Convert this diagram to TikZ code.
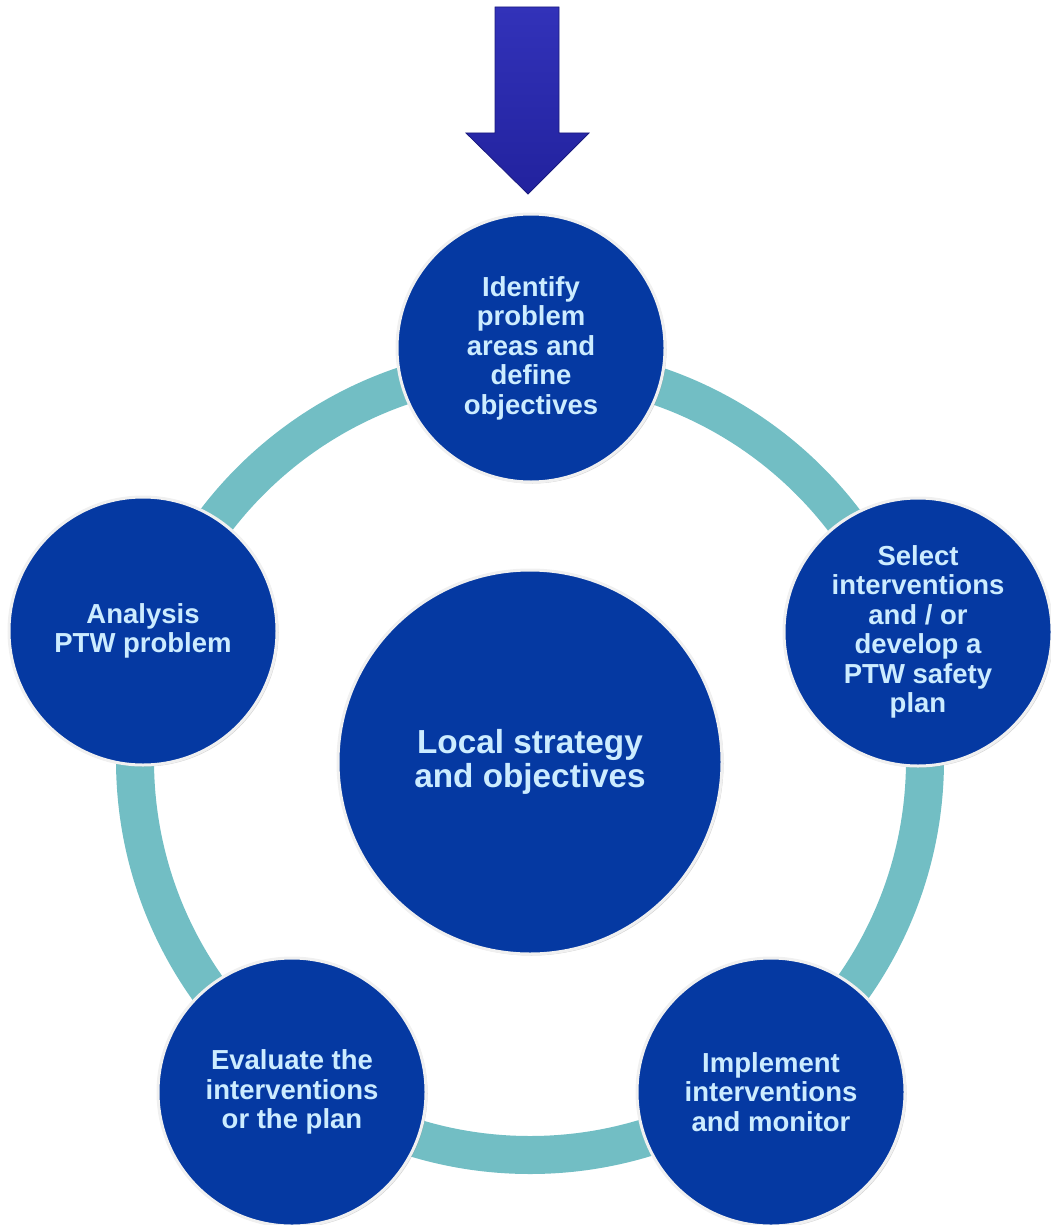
\documentclass[tikz,border=0pt]{standalone}
\usepackage{fontspec}
\setmainfont{Liberation Sans}
\usetikzlibrary{shadows}
\definecolor{bfill}{RGB}{5,57,162}
\definecolor{bedge}{RGB}{2,34,125}
\definecolor{ringteal}{RGB}{114,190,196}
\definecolor{txt}{RGB}{204,236,255}
\definecolor{arrowtop}{RGB}{50,50,185}
\definecolor{arrowbot}{RGB}{34,34,158}
\pgfdeclareradialshading{bubshade}{\pgfpoint{0bp}{0bp}}{color(0bp)=(bfill); color(43bp)=(bfill); color(49bp)=(bedge); color(50bp)=(bedge)}
\begin{document}
\begin{tikzpicture}[x=1pt,y=-1pt,
  bubble/.style={circle, inner sep=0pt, shading=bubshade, draw=gray!12, line width=3pt,
    drop shadow={shadow xshift=1.5pt, shadow yshift=-1.5pt, opacity=0.35},
    text=txt, align=center, font=\bfseries\fontsize{27.5}{29.5}\selectfont},
  smallbub/.style={bubble, minimum size=268pt},
  bigbub/.style={bubble, minimum size=384pt, font=\bfseries\fontsize{33.3}{34}\selectfont}]
\useasboundingbox (0,0) rectangle (1051,1225);
\draw[ringteal, line width=38pt] (530,760) circle[radius=395pt];
\shade[top color=arrowtop, bottom color=arrowbot, draw=arrowbot!80!black, line width=0.8pt]
  (495,7) -- (559,7) -- (559,133) -- (589,133) -- (528,194) -- (466,133) -- (495,133) -- cycle;
\node[smallbub] (top) at (531,348) {Identify\\problem\\areas and\\define\\objectives};
\node[smallbub] (right) at (918,632) {Select\\interventions\\and / or\\develop a\\PTW safety\\plan};
\node[smallbub] (br) at (771,1092) {Implement\\interventions\\and monitor};
\node[smallbub] (bl) at (292,1092) {Evaluate the\\interventions\\or the plan};
\node[smallbub] (left) at (143,631) {Analysis\\PTW problem};
\node[bigbub] (center) at (530,762) {Local strategy\\and objectives};
\end{tikzpicture}
\end{document}
